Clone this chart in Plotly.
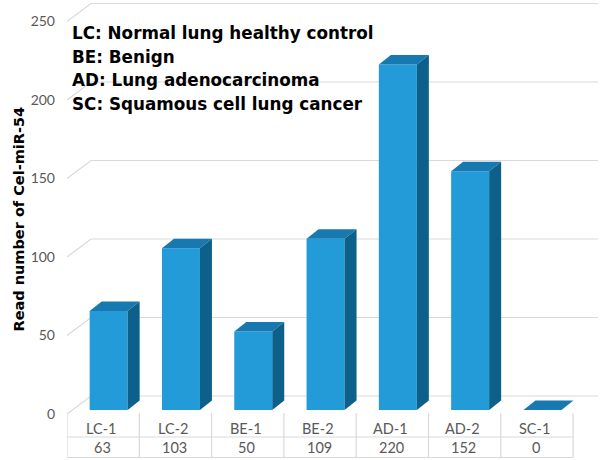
import plotly.graph_objects as go

# ---------------- data ----------------
categories = ["LC-1", "LC-2", "BE-1", "BE-2", "AD-1", "AD-2", "SC-1"]
values = [63, 103, 50, 109, 220, 152, 0]
y_ticks = [0, 50, 100, 150, 200, 250]
legend_lines = [
    "LC: Normal lung healthy control",
    "BE: Benign",
    "AD: Lung adenocarcinoma",
    "SC: Squamous cell lung cancer",
]
y_title = "Read number of Cel-miR-54"

# ---------------- geometry / style ----------------
W, H = 600, 460
ML = 67            # left margin (px)
PX_X = 72.3        # px per category
PX_Y = 1.57        # px per value unit
ZERO_PX = 414      # pixel row of value 0 at the front edge

x0 = -0.5
x1 = x0 + (W - ML) / PX_X
y0 = -(H - ZERO_PX) / PX_Y
y1 = ZERO_PX / PX_Y


def dx(p):
    return p / PX_X


def dy(p):
    return p / PX_Y


def ypx(p):
    return (ZERO_PX - p) / PX_Y


def xpx(p):
    return x0 + (p - ML) / PX_X


FRONT = "#229BD8"
TOP = "#1779AF"
SIDE = "#0D6089"
GRID = "#D9D9D9"
TXT = "#595959"

fig = go.Figure()

# front faces of the bars
base = ypx(410)
fig.add_trace(go.Bar(
    x=list(range(len(categories))), y=values, base=base,
    width=dx(38), offset=dx(-13.5),
    marker=dict(color=FRONT, line=dict(width=0)),
    hoverinfo="skip", showlegend=False,
))

# top and side faces
ddx, ddy = dx(12), dy(9.5)
for i, v in enumerate(values):
    L = i + dx(-13.5)
    R = L + dx(38)
    B = base
    T = v + base
    fig.add_trace(go.Scatter(
        x=[L, R, R + ddx, L + ddx, L], y=[T, T, T + ddy, T + ddy, T],
        mode="lines", fill="toself", fillcolor=TOP,
        line=dict(width=0, color=TOP), hoverinfo="skip", showlegend=False,
    ))
    fig.add_trace(go.Scatter(
        x=[R, R + ddx, R + ddx, R, R], y=[B, B + ddy, T + ddy, T, B],
        mode="lines", fill="toself", fillcolor=SIDE,
        line=dict(width=0, color=SIDE), hoverinfo="skip", showlegend=False,
    ))

shapes = []
# back-wall gridlines with diagonal side-wall segments
gdx, gdy = dx(24), dy(18)
for t in y_ticks:
    shapes.append(dict(
        type="path", xref="x", yref="y", layer="below",
        path=f"M {x0},{t} L {x0 + gdx},{t + gdy} L {xpx(598)},{t + gdy}",
        line=dict(color=GRID, width=1.2),
    ))

# data table grid
n = len(categories)
for k in range(n + 1):
    shapes.append(dict(
        type="line", xref="x", yref="y", layer="below",
        x0=k - 0.5, x1=k - 0.5, y0=ypx(413), y1=ypx(458),
        line=dict(color=GRID, width=1.2),
    ))
for r in (437, 457.5):
    shapes.append(dict(
        type="line", xref="x", yref="y", layer="below",
        x0=-0.5, x1=n - 0.5, y0=ypx(r), y1=ypx(r),
        line=dict(color=GRID, width=1.2),
    ))

annotations = []
for i, (c, v) in enumerate(zip(categories, values)):
    annotations.append(dict(x=i - dx(2), y=ypx(428.5), xref="x", yref="y", text=c,
                            showarrow=False, font=dict(family="Lato", size=14.5, color=TXT)))
    annotations.append(dict(x=i - dx(1), y=ypx(447.5), xref="x", yref="y", text=str(v),
                            showarrow=False, font=dict(family="Lato", size=14.5, color=TXT)))

for j, line in enumerate(legend_lines):
    annotations.append(dict(
        x=xpx(70), y=ypx(33.3 + 23.4 * j), xref="x", yref="y", xanchor="left",
        text=f"<b>{line}</b>", showarrow=False,
        font=dict(family="DejaVu Sans", size=16.8, color="black"),
    ))

annotations.append(dict(
    x=(8.5 - ML) / (W - ML), y=ypx(219), xref="paper", yref="y",
    text=f"<b>{y_title}</b>", textangle=-90, showarrow=False,
    font=dict(family="DejaVu Sans", size=14.5, color="black"),
))

fig.update_layout(
    width=W, height=H,
    margin=dict(l=ML, r=0, t=0, b=0),
    paper_bgcolor="white", plot_bgcolor="white",
    xaxis=dict(visible=False, range=[x0, x1], fixedrange=True),
    yaxis=dict(range=[y0, y1], tickvals=y_ticks, ticktext=[str(t) for t in y_ticks],
               showgrid=False, zeroline=False, showline=False, ticks="",
               ticklabelstandoff=11, tickfont=dict(family="Lato", size=14, color=TXT),
               fixedrange=True),
    shapes=shapes, annotations=annotations,
    showlegend=False,
)

fig.write_html("out.html", config={"displayModeBar": False},
               post_script="document.body.style.margin='0';")
